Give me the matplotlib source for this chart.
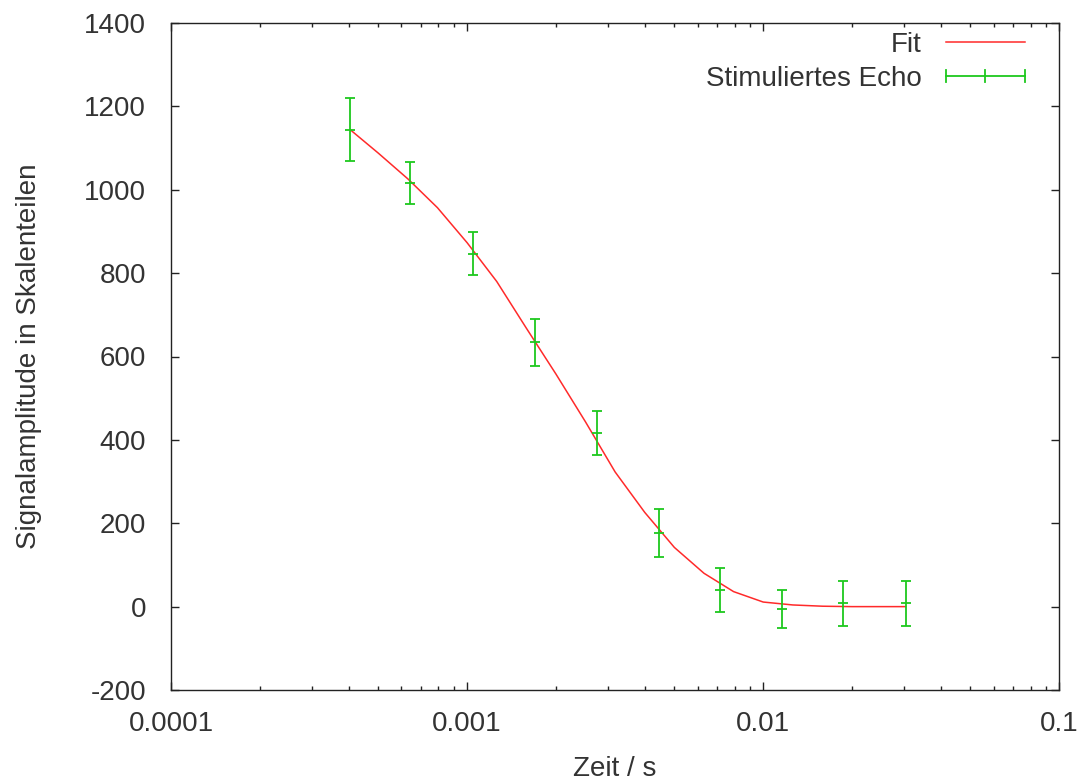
import matplotlib
matplotlib.use("Agg")
import matplotlib.pyplot as plt
from matplotlib.lines import Line2D
from matplotlib.legend_handler import HandlerBase
from matplotlib.ticker import FixedLocator, FuncFormatter, LogLocator, NullLocator

# ---- data ----
t_echo = [4.03e-4, 6.43e-4, 1.045e-3, 1.693e-3, 2.743e-3, 4.463e-3, 7.12e-3, 1.153e-2, 1.867e-2, 3.025e-2]
amp_echo = [1144, 1016, 847, 634, 417, 177, 40, -5, 8, 8]
err_echo = [76, 50, 52, 56, 53, 57, 52, 46, 54, 54]

t_fit = [4.03e-4, 5.01e-4, 6.31e-4, 7.94e-4, 1.0e-3, 1.259e-3, 1.585e-3, 1.995e-3, 2.512e-3,
         3.162e-3, 3.981e-3, 5.012e-3, 6.31e-3, 7.943e-3, 1.0e-2, 1.259e-2, 1.585e-2, 1.995e-2, 3.025e-2]
amp_fit = [1144, 1088, 1026, 957, 873, 780, 668, 558, 443,
           323, 226, 142, 80, 36, 11, 4, 1, 0, 0]

xticks = [1e-4, 1e-3, 1e-2, 1e-1]
xtick_labels = ["0.0001", "0.001", "0.01", "0.1"]
yticks = [-200, 0, 200, 400, 600, 800, 1000, 1200, 1400]

red = "#ff2a2a"
green = "#1ec81e"

plt.rcParams["font.family"] = ["Liberation Sans", "DejaVu Sans"]
plt.rcParams["axes.unicode_minus"] = False
FS = 20

fig = plt.figure(figsize=(10.82, 7.83), dpi=100)
ax = fig.add_axes([171/1082, 93/783, (1059.3-171)/1082, (690-23)/783])

fit_line, = ax.plot(t_fit, amp_fit, color=red, lw=1.1, label="Fit")
eb = ax.errorbar(t_echo, amp_echo, yerr=err_echo, fmt="_", color=green, ms=6.5, mew=1.3,
                 elinewidth=1.3, capsize=3.3, capthick=1.3, label="Stimuliertes Echo")

ax.set_xscale("log")
ax.set_xlim(1e-4, 1e-1)
ax.set_ylim(-200, 1400)
ax.xaxis.set_major_locator(FixedLocator(xticks))
ax.xaxis.set_major_formatter(FuncFormatter(lambda v, p: xtick_labels[xticks.index(v)] if v in xticks else ""))
ax.xaxis.set_minor_locator(LogLocator(base=10, subs=range(2, 10)))
ax.xaxis.set_minor_formatter(FuncFormatter(lambda v, p: ""))
ax.set_yticks(yticks)
ax.yaxis.set_minor_locator(NullLocator())

for s in ax.spines.values():
    s.set_linewidth(1.0)
    s.set_color("#222222")
ax.tick_params(which="both", direction="in", top=True, right=True, colors="#222222",
               labelcolor="#333333", labelsize=FS, width=1.0)
ax.tick_params(which="major", length=6)
ax.tick_params(axis="x", which="major", pad=15)
ax.tick_params(axis="y", which="major", pad=18)
ax.tick_params(which="minor", length=3)

ax.set_xlabel("Zeit / s", fontsize=FS, color="#333333", labelpad=14)
ax.set_ylabel("Signalamplitude in Skalenteilen", fontsize=FS, color="#333333", labelpad=30)


class ErrHandler(HandlerBase):
    def create_artists(self, legend, orig_handle, xdescent, ydescent, width, height, fontsize, trans):
        y = height / 2 - ydescent
        x0, x1 = -xdescent, -xdescent + width
        xm = (x0 + x1) / 2
        h = 4.5
        arts = [Line2D([x0, x1], [y, y], color=green, lw=1.3)]
        for xx in (x0, xm, x1):
            arts.append(Line2D([xx, xx], [y - h, y + h], color=green, lw=1.3))
        for a in arts:
            a.set_transform(trans)
        return arts


leg = ax.legend([fit_line, eb], ["Fit", "Stimuliertes Echo"], handler_map={type(eb): ErrHandler()},
                loc="upper right", bbox_to_anchor=(1025/1082, (783-32)/783), bbox_transform=fig.transFigure,
                frameon=False, markerfirst=False, fontsize=FS, handlelength=2.85, handletextpad=0.86,
                borderpad=0, borderaxespad=0, labelspacing=0.28)
for t in leg.get_texts():
    t.set_color("#333333")

fig.savefig("out.png", dpi=100)
